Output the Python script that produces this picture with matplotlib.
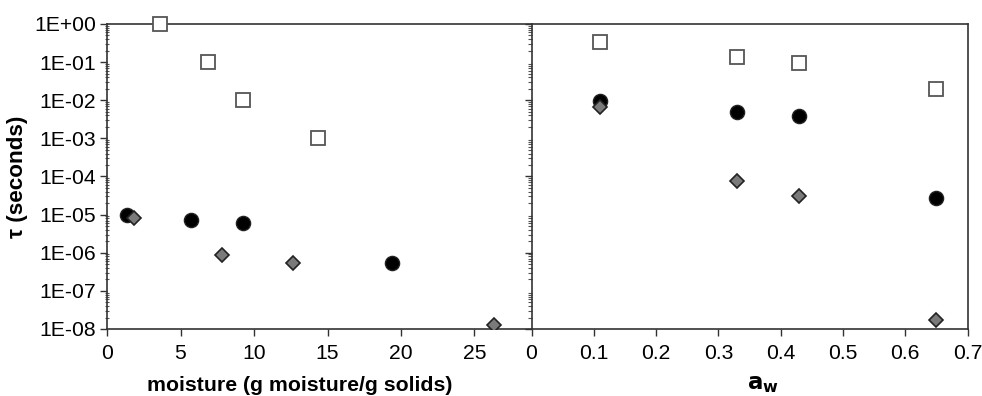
import numpy as np
import matplotlib
matplotlib.use("Agg")
import matplotlib.pyplot as plt
from matplotlib.ticker import LogLocator, FixedLocator, FuncFormatter, NullFormatter

plt.rcParams['font.family'] = ['Liberation Sans', 'DejaVu Sans']

# left panel: tau vs moisture
moist_sq = [3.6, 6.9, 9.25, 14.35]
tau_sq = [1.0, 1e-1, 1e-2, 1e-3]
moist_ci = [1.36, 5.7, 9.25, 19.4]
tau_ci = [9.5e-6, 7.2e-6, 6.2e-6, 5.4e-7]
moist_di = [1.84, 7.8, 12.65, 26.3]
tau_di = [8.1e-6, 8.9e-7, 5.4e-7, 1.3e-8]

# right panel: tau vs water activity
aw = [0.11, 0.33, 0.43, 0.65]
aw_sq = [0.34, 0.135, 0.095, 0.02]
aw_ci = [9.5e-3, 4.9e-3, 3.9e-3, 2.7e-5]
aw_di = [6.6e-3, 7.6e-5, 3.1e-5, 1.7e-8]

left_xticks = [0, 5, 10, 15, 20, 25]
right_xticks = [0, 0.1, 0.2, 0.3, 0.4, 0.5, 0.6, 0.7]

fig = plt.figure(figsize=(9.82, 3.96), dpi=100)
ax1 = fig.add_axes([0.109, 0.1692, 0.4318, 0.7702])
ax2 = fig.add_axes([0.5413, 0.1692, 0.444, 0.7702])

spine_c = '#333333'


def style_markers(ax, xs_ci, ys_ci, xs_di, ys_di, xs_sq, ys_sq):
    ax.plot(xs_ci, ys_ci, 'o', ms=10.2, mfc='black', mec='#222222', mew=1, ls='none', zorder=3)
    ax.plot(xs_di, ys_di, 'D', ms=7.4, mfc='#7a7a7a', mec='#222222', mew=1.2, ls='none', zorder=4)
    ax.plot(xs_sq, ys_sq, 's', ms=10, mfc='white', mec='#555555', mew=1.3, ls='none', zorder=5,
            clip_on=False)


style_markers(ax1, moist_ci, tau_ci, moist_di, tau_di, moist_sq, tau_sq)
style_markers(ax2, aw, aw_ci, aw, aw_di, aw, aw_sq)

for ax in (ax1, ax2):
    ax.set_yscale('log')
    ax.set_ylim(1e-8, 1.0)
    for s in ax.spines.values():
        s.set_color(spine_c)
        s.set_linewidth(1.2)
    ax.yaxis.set_minor_locator(LogLocator(base=10, subs=np.arange(2, 10), numticks=20))
    ax.yaxis.set_minor_formatter(NullFormatter())
    ax.tick_params(axis='both', which='major', direction='out', length=5, width=1,
                   color=spine_c, labelsize=15.2, pad=3)
    ax.tick_params(axis='x', which='major', pad=6)
    ax.tick_params(axis='y', which='minor', direction='inout', length=3, width=0.8, color='#555555')

# left panel axes
ax1.set_xlim(0, 28.85)
ax1.xaxis.set_major_locator(FixedLocator(left_xticks))
ax1.spines['right'].set_visible(False)
ax1.yaxis.set_major_locator(FixedLocator([10.0 ** k for k in range(-8, 1)]))
ax1.yaxis.set_major_formatter(FuncFormatter(lambda v, p: '1E%+03d' % int(round(np.log10(v)))))
ax1.set_xlabel('moisture (g moisture/g solids)', fontsize=15.3, fontweight='bold')
ax1.xaxis.set_label_coords(0.455, -0.155)
ax1.set_ylabel('\u03c4 (seconds)', fontsize=16.2, fontweight='bold')
ax1.yaxis.set_label_coords(-0.187, 0.5)

# right panel axes
ax2.set_xlim(0, 0.7)
ax2.xaxis.set_major_locator(FixedLocator(right_xticks))
ax2.xaxis.set_major_formatter(FuncFormatter(lambda v, p: '0' if v == 0 else '%g' % v))
ax2.yaxis.set_major_locator(FixedLocator([10.0 ** k for k in range(-8, 1, 2)]))
ax2.yaxis.set_major_formatter(NullFormatter())
ax2.tick_params(axis='y', which='minor', direction='out', length=3)
ax2.set_xlabel(r'$\mathbf{a_w}$', fontsize=16.5)
ax2.xaxis.set_label_coords(0.53, -0.14)

fig.savefig('out.png', dpi=100)
